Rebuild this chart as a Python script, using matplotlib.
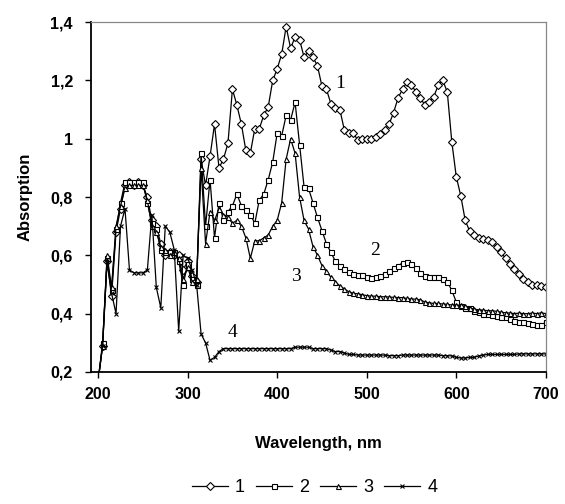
import numpy as np
import matplotlib
matplotlib.use("Agg")
import matplotlib.pyplot as plt

plt.rcParams['font.family'] = ['Liberation Sans', 'DejaVu Sans']

# wavelength grid, nm
wavelength = list(range(200, 705, 5))

# absorption spectra (5 nm steps, 200..700 nm)
curve1 = [0.17, 0.29, 0.58, 0.46, 0.68, 0.76, 0.84, 0.85, 0.84, 0.85,
          0.84, 0.80, 0.72, 0.70, 0.64, 0.60, 0.61, 0.60, 0.60, 0.55,
          0.58, 0.53, 0.51, 0.93, 0.84, 0.94, 1.05, 0.90, 0.93, 0.985,
          1.17, 1.115, 1.05, 0.96, 0.95, 1.035, 1.035, 1.08, 1.11, 1.20,
          1.24, 1.29, 1.385, 1.31, 1.35, 1.34, 1.28, 1.30, 1.28, 1.25,
          1.18, 1.17, 1.12, 1.105, 1.10, 1.03, 1.02, 1.02, 0.995, 1.00,
          1.00, 1.00, 1.005, 1.015, 1.03, 1.05, 1.09, 1.14, 1.17, 1.195,
          1.185, 1.16, 1.14, 1.115, 1.125, 1.145, 1.185, 1.20, 1.16, 0.99,
          0.87, 0.805, 0.72, 0.683, 0.67, 0.66, 0.655, 0.653, 0.645, 0.63,
          0.61, 0.59, 0.57, 0.553, 0.537, 0.52, 0.51, 0.50, 0.50, 0.495,
          0.49]
curve2 = [0.17, 0.30, 0.59, 0.48, 0.69, 0.78, 0.85, 0.85, 0.85, 0.85,
          0.85, 0.78, 0.71, 0.69, 0.62, 0.61, 0.61, 0.61, 0.58, 0.50,
          0.57, 0.52, 0.50, 0.95, 0.70, 0.86, 0.66, 0.78, 0.72, 0.75,
          0.77, 0.81, 0.77, 0.755, 0.74, 0.71, 0.79, 0.81, 0.86, 0.92,
          1.02, 1.01, 1.08, 1.065, 1.125, 0.98, 0.835, 0.83, 0.78, 0.73,
          0.685, 0.64, 0.61, 0.58, 0.565, 0.553, 0.543, 0.535, 0.532, 0.532,
          0.525, 0.522, 0.526, 0.53, 0.537, 0.545, 0.555, 0.565, 0.574, 0.578,
          0.57, 0.555, 0.54, 0.53, 0.526, 0.526, 0.525, 0.52, 0.51, 0.48,
          0.44, 0.425, 0.42, 0.42, 0.41, 0.405, 0.40, 0.398, 0.395, 0.392,
          0.39, 0.387, 0.383, 0.375, 0.37, 0.37, 0.367, 0.365, 0.36, 0.362,
          0.37]
curve3 = [0.17, 0.29, 0.60, 0.49, 0.70, 0.77, 0.83, 0.84, 0.84, 0.84,
          0.84, 0.79, 0.70, 0.68, 0.63, 0.62, 0.60, 0.61, 0.59, 0.52,
          0.56, 0.51, 0.52, 0.90, 0.64, 0.75, 0.72, 0.76, 0.74, 0.73,
          0.71, 0.72, 0.70, 0.66, 0.59, 0.65, 0.65, 0.66, 0.67, 0.70,
          0.72, 0.78, 0.93, 1.00, 0.95, 0.80, 0.72, 0.69, 0.63, 0.60,
          0.565, 0.545, 0.525, 0.51, 0.495, 0.485, 0.475, 0.47, 0.468, 0.465,
          0.462, 0.46, 0.46, 0.458, 0.458, 0.457, 0.456, 0.455, 0.455, 0.452,
          0.45, 0.45, 0.447, 0.44, 0.437, 0.435, 0.435, 0.433, 0.432, 0.43,
          0.43, 0.428, 0.425, 0.42, 0.415, 0.413, 0.412, 0.41, 0.41, 0.408,
          0.405, 0.403, 0.402, 0.40, 0.402, 0.40, 0.40, 0.402, 0.40, 0.403,
          0.40]
curve4 = [0.17, 0.29, 0.58, 0.47, 0.40, 0.70, 0.76, 0.55, 0.54, 0.54,
          0.54, 0.55, 0.74, 0.49, 0.42, 0.70, 0.68, 0.62, 0.34, 0.60,
          0.59, 0.55, 0.50, 0.33, 0.30, 0.24, 0.25, 0.27, 0.28, 0.28,
          0.28, 0.28, 0.28, 0.28, 0.28, 0.28, 0.28, 0.28, 0.28, 0.28,
          0.28, 0.28, 0.28, 0.28, 0.285, 0.285, 0.285, 0.285, 0.28, 0.28,
          0.28, 0.28, 0.275, 0.27, 0.27, 0.265, 0.26, 0.26, 0.258, 0.258,
          0.258, 0.258, 0.258, 0.258, 0.258, 0.256, 0.256, 0.256, 0.258, 0.258,
          0.258, 0.258, 0.258, 0.258, 0.258, 0.258, 0.258, 0.256, 0.256, 0.255,
          0.25, 0.248, 0.248, 0.25, 0.25, 0.255, 0.258, 0.26, 0.26, 0.26,
          0.26, 0.26, 0.26, 0.26, 0.262, 0.262, 0.262, 0.262, 0.262, 0.262,
          0.262]

labels = ['1', '2', '3', '4']
markers = ['D', 's', '^', 'x']

fig = plt.figure(figsize=(5.65, 5.04), dpi=100)
ax = fig.add_axes([0.161, 0.262, 0.805, 0.694])

series = [curve1, curve2, curve3, curve4]
for vals, lab, m in zip(series, labels, markers):
    ms = 3.6 if m != 'x' else 3.4
    ax.plot(wavelength, vals, color='black', lw=0.9, marker=m, ms=ms,
            mfc='white', mec='black', mew=0.8, label=lab)

ax.set_xlim(192, 700)
ax.set_ylim(0.2, 1.4)
ax.set_xticks([200, 300, 400, 500, 600, 700])
yt = [0.2, 0.4, 0.6, 0.8, 1.0, 1.2, 1.4]
ax.set_yticks(yt)
ax.set_yticklabels(['0,2', '0,4', '0,6', '0,8', '1', '1,2', '1,4'])
for t in ax.get_xticklabels() + ax.get_yticklabels():
    t.set_fontweight('bold')
    t.set_fontsize(11.5)
ax.tick_params(direction='out', length=4, width=1.0, color='black')
ax.tick_params(axis='x', pad=7)
ax.tick_params(axis='y', pad=9)

for s in ['left', 'bottom']:
    ax.spines[s].set_linewidth(1.3)
for s in ['top', 'right']:
    ax.spines[s].set_color('#888888')
    ax.spines[s].set_linewidth(0.9)

ax.set_xlabel('Wavelength, nm', fontsize=12, fontweight='bold', labelpad=24)
ax.set_ylabel('Absorption', fontsize=12, fontweight='bold', labelpad=13)

# curve numbers inside the plot
serif = 'Liberation Serif'
ax.text(470, 1.19, '1', fontsize=14, family=serif, ha='center', va='center')
ax.text(509, 0.615, '2', fontsize=14, family=serif, ha='center', va='center')
ax.text(421, 0.526, '3', fontsize=14, family=serif, ha='center', va='center')
ax.text(350, 0.335, '4', fontsize=14, family=serif, ha='center', va='center')

fig.legend(loc='center', bbox_to_anchor=(0.557, 0.032), ncol=4, frameon=False,
           fontsize=13, handlelength=2.0, columnspacing=0.6, handletextpad=0.4)

fig.savefig('out.png', dpi=100)
